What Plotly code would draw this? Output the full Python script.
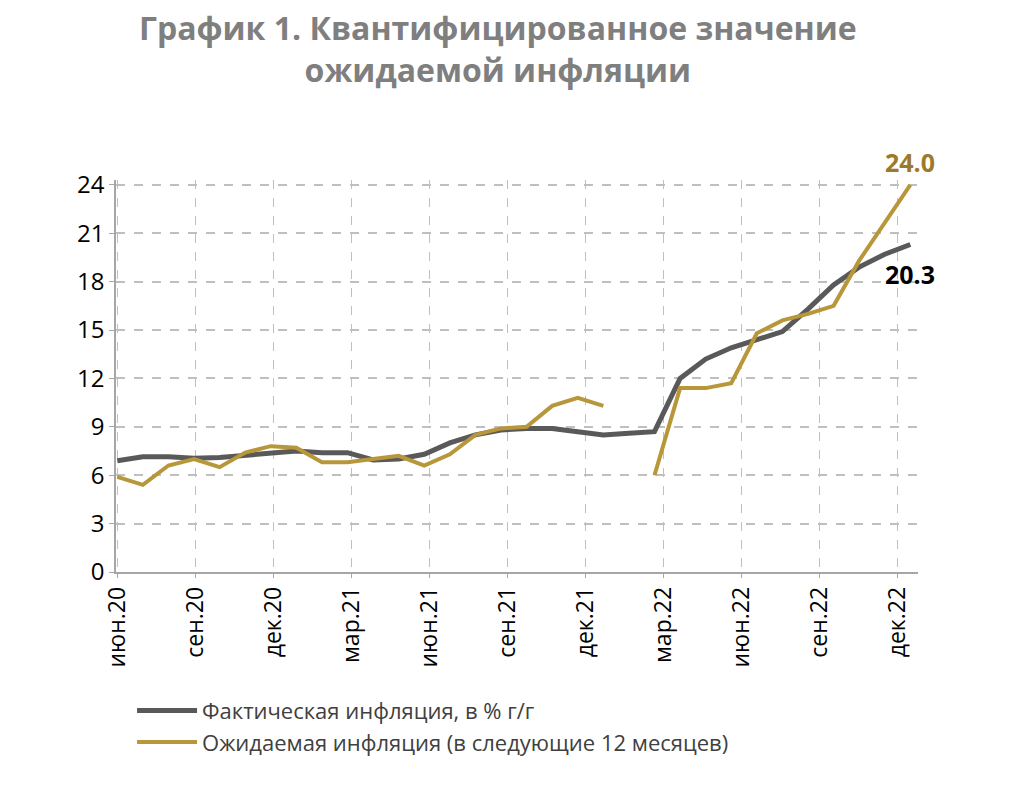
import plotly.graph_objects as go

# monthly points, May 2020 .. Dec 2022 (32 points)
actual = [6.9, 7.15, 7.15, 7.05, 7.1, 7.25, 7.4, 7.5, 7.4, 7.4, 6.95, 7.0,
          7.3, 8.0, 8.5, 8.8, 8.9, 8.9, 8.7, 8.5, 8.6, 8.7, 12.0, 13.2,
          13.9, 14.4, 14.9, 16.3, 17.8, 18.9, 19.7, 20.3]
expected = [5.9, 5.4, 6.6, 7.0, 6.5, 7.4, 7.8, 7.7, 6.8, 6.8, 7.0, 7.2,
            6.6, 7.3, 8.5, 8.9, 9.0, 10.3, 10.8, 10.3, None, 6.0, 11.4, 11.4,
            11.7, 14.8, 15.6, 16.0, 16.5, 19.3, 21.7, 24.0]
tick_labels = ["июн.20", "сен.20", "дек.20", "мар.21", "июн.21", "сен.21",
               "дек.21", "мар.22", "июн.22", "сен.22", "дек.22"]
yticks = [0, 3, 6, 9, 12, 15, 18, 21, 24]

x = list(range(len(actual)))
tickpos = [k * 3.05 for k in range(len(tick_labels))]

GRAY = "#595959"
GOLD = "#B8963A"

fig = go.Figure()
fig.add_trace(go.Scatter(x=x, y=actual, mode="lines", name="Фактическая инфляция, в % г/г",
                         line=dict(color=GRAY, width=5)))
fig.add_trace(go.Scatter(x=x, y=expected, mode="lines", connectgaps=False,
                         name="Ожидаемая инфляция (в следующие 12 месяцев)",
                         line=dict(color=GOLD, width=4)))

fig.add_annotation(x=x[-1], y=expected[-1], text="<b>24.0</b>", showarrow=False,
                   xanchor="center", yanchor="bottom", yshift=4,
                   font=dict(size=25, color="#9C7A2A"))
fig.add_annotation(x=x[-1], y=actual[-1], text="<b>20.3</b>", showarrow=False,
                   xanchor="center", yanchor="top", yshift=-10,
                   font=dict(size=25, color="black"))

fig.update_layout(
    width=1010, height=800,
    paper_bgcolor="white", plot_bgcolor="white",
    font=dict(family="Open Sans, sans-serif"),
    title=dict(text="<b>График 1. Квантифицированное значение<br>ожидаемой инфляции</b>",
               x=0.485, xanchor="center", y=0.96, yanchor="top",
               font=dict(size=32, color="#7F7F7F")),
    margin=dict(l=108, r=100, t=172, b=236),
    showlegend=True,
    legend=dict(x=0.02, y=-0.3, xanchor="left", yanchor="top",
                font=dict(size=22, color="#404040"), tracegroupgap=0,
                itemwidth=60),
    xaxis=dict(range=[-0.05, 31.3], tickmode="array", tickvals=tickpos, ticktext=tick_labels,
               tickangle=-90, tickfont=dict(size=23, color="black"),
               showgrid=True, gridcolor="#BFBFBF", griddash="dash", gridwidth=1,
               showline=True, linecolor="#A6A6A6", linewidth=1.5, zeroline=False,
               ticks="outside", ticklen=4, tickcolor="#A6A6A6"),
    yaxis=dict(range=[0, 24.3], tickmode="array", tickvals=yticks,
               tickfont=dict(size=24, color="black"),
               showgrid=True, gridcolor="#BFBFBF", griddash="dash", gridwidth=1.5,
               showline=True, linecolor="#A6A6A6", linewidth=1.5, zeroline=False,
               ticks="outside", ticklen=5, tickcolor="#A6A6A6"),
)

fig.write_html("out.html")
